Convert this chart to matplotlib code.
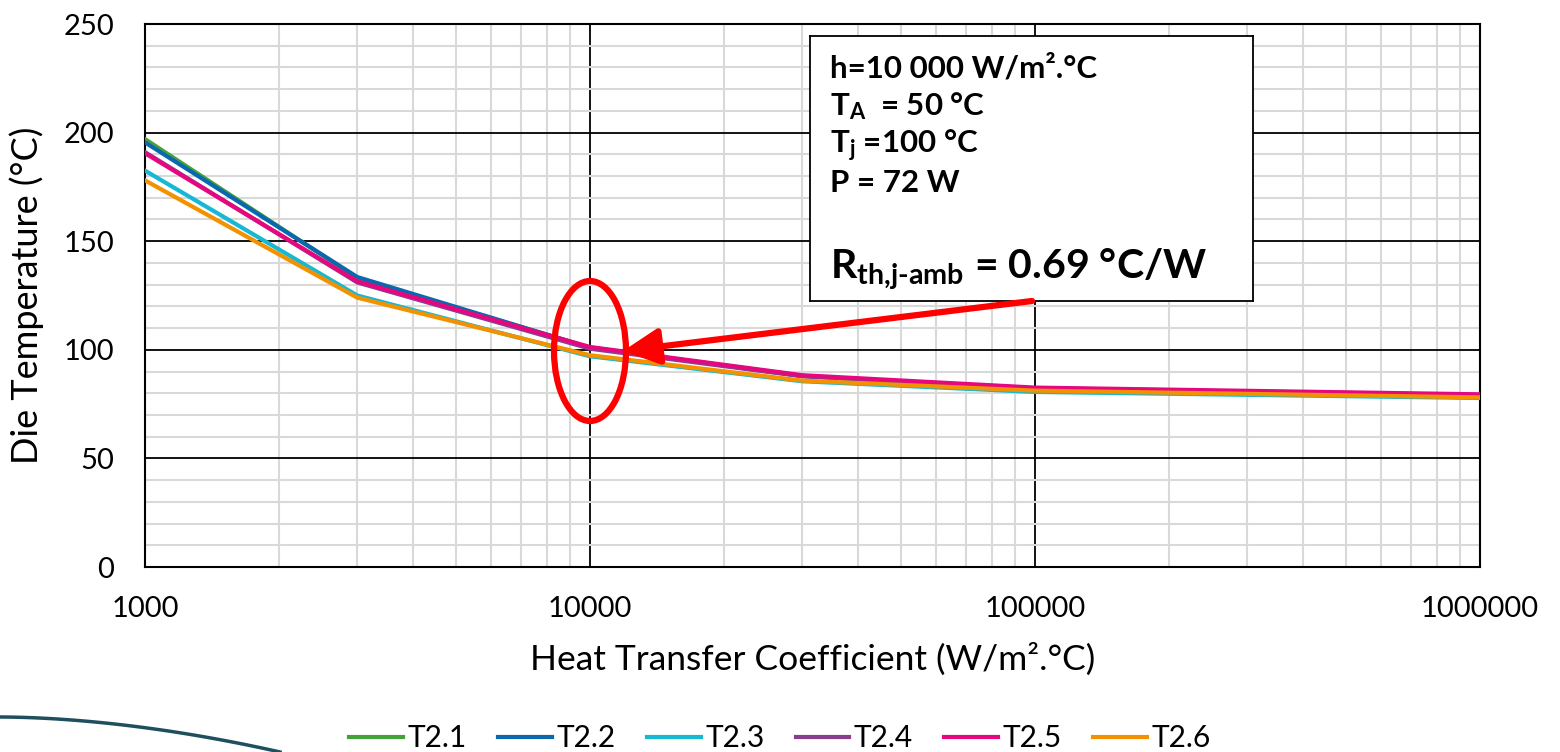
import numpy as np
import matplotlib
matplotlib.use("Agg")
import matplotlib.pyplot as plt
from matplotlib.patches import Ellipse, FancyArrowPatch
from matplotlib.lines import Line2D

plt.rcParams['font.family'] = ['Lato', 'DejaVu Sans']
plt.rcParams['mathtext.fontset'] = 'custom'
plt.rcParams['mathtext.rm'] = 'Lato:bold'
plt.rcParams['mathtext.it'] = 'Lato:bold'
plt.rcParams['mathtext.bf'] = 'Lato:bold'

#%% data
h = [1000, 3000, 10000, 30000, 100000, 1000000]
series = ['T2.1', 'T2.2', 'T2.3', 'T2.4', 'T2.5', 'T2.6']
t21 = [197, 133, 101, 88, 82, 79]
t22 = [195.5, 133.5, 101, 88, 82, 79]
t23 = [182.5, 125, 97, 85.5, 80.6, 77.8]
t24 = [191, 131, 100.5, 87.8, 82.3, 79.2]
t25 = [190.5, 131.5, 101.3, 88.3, 82.6, 79.5]
t26 = [178, 124, 97.5, 85.8, 81.2, 78.1]
colores = ['#43a336', '#0b68ae', '#16b8d4', '#8a3c8f', '#e6077f', '#f39200']

#%% figura
fig = plt.figure(figsize=(15.6, 7.52), dpi=100)
ax = fig.add_axes([145/1560, 1-567/752, (1480-145)/1560, (567-24)/752])

for nom, val, c in zip(series, [t21, t22, t23, t24, t25, t26], colores):
    ax.plot(h, val, color=c, lw=3, label=nom, zorder=3)

ax.set_xscale('log')
ax.set_xlim(1000, 1000000)
ax.set_ylim(0, 250)
ax.set_yticks(np.arange(0, 251, 50))
ax.set_yticks(np.arange(0, 251, 10), minor=True)
ax.set_xticks([1000, 10000, 100000, 1000000])
ax.set_xticklabels(['1000', '10000', '100000', '1000000'])
ax.grid(which='minor', color='#d9d9d9', lw=1.5, zorder=0)
ax.grid(which='major', color='black', lw=1.3, zorder=1)
ax.tick_params(which='both', length=0, labelsize=21)
ax.tick_params(axis='y', pad=22)
ax.tick_params(axis='x', pad=21)
for s in ax.spines.values():
    s.set_color('black')
    s.set_linewidth(1.5)
ax.set_xlabel('Heat Transfer Coefficient (W/m².°C)', fontsize=25.5, labelpad=15)
ax.set_ylabel('Die Temperature (°C)', fontsize=26, labelpad=14)

#%% caja de texto
bx = fig.add_axes([810/1560, 1-301/752, (1253-810)/1560, (301-36)/752])
bx.set_xticks([]); bx.set_yticks([])
bx.set_zorder(5)
for s in bx.spines.values():
    s.set_linewidth(1.3)
tk = dict(transform=bx.transAxes, fontsize=22.5, fontweight='bold', va='baseline', ha='left')
bx.text(0.045, 0.845, 'h=10 000 W/m².°C', **tk)
bx.text(0.045, 0.70, r'$\mathrm{T_{A}}$  = 50 °C', **tk)
bx.text(0.045, 0.558, r'$\mathrm{T_{j}}$ =100 °C', **tk)
bx.text(0.045, 0.411, 'P = 72 W', **tk)
bx.text(0.045, 0.087, r'$\mathrm{R}_{\text{th,j-amb}}$ = 0.69 °C/W',
        transform=bx.transAxes, fontsize=29.5, fontweight='bold', va='baseline', ha='left')

#%% elipse y flecha
el = Ellipse(((590-145)/1335, (567-351)/543), 72/1335, 140/543, transform=ax.transAxes,
             fill=False, edgecolor='#ff0000', lw=4.5, zorder=6, clip_on=False)
ax.add_patch(el)
fl = FancyArrowPatch((1032/1560, 1-301/752), (623/1560, 1-351/752), transform=fig.transFigure,
                     arrowstyle='-|>,head_length=22,head_width=11', color='#ff0000', lw=4.5,
                     shrinkA=0, shrinkB=0, zorder=7)
fig.add_artist(fl)

#%% leyenda
leg = fig.legend(*ax.get_legend_handles_labels(), loc='center', bbox_to_anchor=(780/1560, 1-738/752),
                 ncol=6, frameon=False, fontsize=21.5, handlelength=1.8, handletextpad=0.15,
                 columnspacing=1.05, borderpad=0)

# curva decorativa abajo a la izquierda
xc = np.linspace(0, 280, 50)
yc = 717 + 35*(xc/280)**1.8
fig.add_artist(Line2D(xc/1560, 1-yc/752, color='#1f4f5e', lw=2.5, transform=fig.transFigure))

fig.savefig('out.png', dpi=100)
